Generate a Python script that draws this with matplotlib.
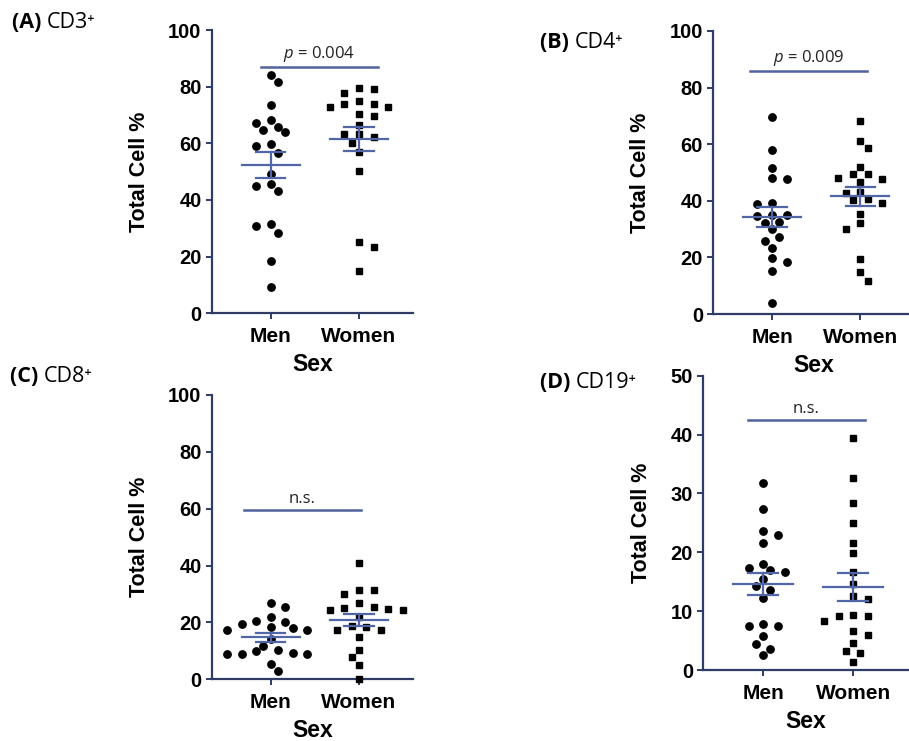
import numpy as np
import matplotlib
matplotlib.use("Agg")
import matplotlib.pyplot as plt

plt.rcParams['font.family'] = ['Liberation Sans', 'DejaVu Sans']
plt.rcParams['mathtext.fontset'] = 'custom'
plt.rcParams['mathtext.it'] = 'Open Sans:italic'
plt.rcParams['mathtext.rm'] = 'Open Sans'

groups = ["Men", "Women"]
x_label = "Sex"
y_label = "Total Cell %"

cd3_men = [84.1, 81.5, 73.6, 67.2, 68.4, 64.7, 65.9, 63.9, 59.6, 58.9,
           56.7, 49.1, 43.2, 45.6, 44.8, 31.5, 30.9, 28.4, 18.6, 9.2]
cd3_women = [79.5, 77.9, 79.1, 74.8, 74.0, 72.9, 73.9, 72.7, 70.4, 69.6,
             66.6, 63.3, 63.3, 62.2, 60.1, 57.1, 50.2, 25.2, 23.3, 14.8]
cd4_men = [69.6, 58.1, 51.6, 48.2, 47.6, 38.8, 39.3, 34.9, 34.7, 35.1,
           32.6, 32.0, 29.9, 25.9, 27.2, 23.2, 18.2, 19.9, 15.3, 3.8]
cd4_women = [68.2, 61.1, 58.8, 52.0, 49.6, 49.4, 47.9, 46.7, 47.8, 42.6,
             43.2, 40.8, 40.2, 39.3, 35.3, 32.0, 30.2, 19.3, 14.7, 11.8]
cd8_men = [27.0, 25.3, 21.9, 20.5, 20.2, 19.3, 18.5, 17.4, 17.4, 18.1,
           14.3, 11.8, 10.3, 9.8, 8.8, 8.8, 8.8, 9.4, 5.3, 2.9]
cd8_women = [41.0, 31.3, 30.0, 31.3, 27.0, 25.1, 24.4, 25.3, 24.2, 24.6,
             22.0, 18.5, 18.9, 17.5, 17.4, 14.8, 10.3, 7.7, 5.0, 0.0]
cd19_men = [31.8, 27.4, 22.9, 23.7, 21.6, 17.3, 16.6, 18.0, 17.0, 15.5,
            14.3, 13.6, 12.3, 7.5, 7.5, 7.9, 5.8, 4.5, 3.6, 2.5]
cd19_women = [39.4, 32.7, 28.3, 25.0, 21.6, 19.9, 16.6, 14.6, 12.5, 12.0,
              9.3, 9.2, 9.2, 8.4, 6.0, 6.6, 4.6, 2.9, 3.2, 1.4]

panel_titles = ["(A)", "(B)", "(C)", "(D)"]
panel_markers = ["CD3", "CD4", "CD8", "CD19"]
sig_texts = ["$p$ = 0.004", "$p$ = 0.009", "n.s.", "n.s."]
sig_levels = [87.1, 85.9, 59.6, 42.5]
sig_spans = [(-0.11, 1.215), (-0.245, 1.07), (-0.30, 1.02), (-0.17, 1.13)]
y_maxes = [100, 100, 100, 50]
y_steps = [20, 20, 20, 10]

W, H = 909, 741
fig = plt.figure(figsize=(W / 100, H / 100), dpi=100)

AXC = '#2f3c66'
MEANC = '#5066a6'
SIGC = '#51629e'

# axes placement in pixels: left, top, bottom, pixel spacing between groups
layout = [
    (212, 30, 313.3, 88.3),
    (713.3, 31, 314, 88.3),
    (212, 395, 679.3, 88.3),
    (703.3, 375.7, 670, 90.0),
]
XL = (-0.665, 1.61)


def swarm(vals, ypx_per_unit, xpx_per_unit, step=7.3, dist=9.2):
    """Grid-based swarm: columns every `step` px, min distance `dist` px."""
    vals = np.asarray(vals, float)
    order = np.argsort(-vals, kind='stable')
    placed = []
    offs = np.zeros(len(vals))
    nleft = nright = 0
    for i in order:
        y = vals[i] * ypx_per_unit
        done = False
        for k in range(0, 15):
            if k == 0:
                cands = [0.0]
            elif nleft < nright:
                cands = [-k * step, k * step]
            else:
                cands = [k * step, -k * step]
            for c in cands:
                if all((px - c) ** 2 + (py - y) ** 2 >= dist ** 2 for px, py in placed):
                    offs[i] = c
                    placed.append((c, y))
                    if c < 0:
                        nleft += 1
                    elif c > 0:
                        nright += 1
                    done = True
                    break
            if done:
                break
    return offs / xpx_per_unit


data = [(cd3_men, cd3_women), (cd4_men, cd4_women),
        (cd8_men, cd8_women), (cd19_men, cd19_women)]

for p in range(4):
    left, top, bot, sp = layout[p]
    wpx = (XL[1] - XL[0]) * sp
    ax = fig.add_axes([left / W, (H - bot) / H, wpx / W, (bot - top) / H])
    ymax = y_maxes[p]
    ax.set_xlim(*XL)
    ax.set_ylim(0, ymax)
    ypx = (bot - top) / ymax
    for g, (vals, mk) in enumerate(zip(data[p], ['o', 's'])):
        vals = np.asarray(vals, float)
        xo = swarm(vals, ypx, sp)
        ax.plot(g + xo, vals, linestyle='none', marker=mk, color='black',
                ms=5.3 if mk == 'o' else 5.0, clip_on=False, zorder=3)
        m = vals.mean()
        se = vals.std(ddof=1) / np.sqrt(len(vals))
        ax.plot([g - 0.33, g + 0.33], [m, m], color=MEANC, lw=1.6, zorder=4)
        ax.plot([g - 0.166, g + 0.166], [m + se, m + se], color=MEANC, lw=1.6, zorder=4)
        ax.plot([g - 0.166, g + 0.166], [m - se, m - se], color=MEANC, lw=1.6, zorder=4)
        ax.plot([g, g], [m - se, m + se], color=MEANC, lw=1.6, zorder=4)
    s0, s1 = sig_spans[p]
    ax.plot([s0, s1], [sig_levels[p], sig_levels[p]], color=SIGC, lw=1.8, clip_on=False)
    ax.text((s0 + s1) / 2, sig_levels[p] + ymax * 0.01, sig_texts[p],
            ha='center', va='bottom', fontsize=12, family='Open Sans', color='#222222')
    for s in ['top', 'right']:
        ax.spines[s].set_visible(False)
    for s in ['left', 'bottom']:
        ax.spines[s].set_color(AXC)
        ax.spines[s].set_linewidth(1.6)
    ax.set_yticks(np.arange(0, ymax + 1, y_steps[p]))
    ax.set_xticks([0, 1])
    ax.set_xticklabels(groups)
    ax.tick_params(axis='both', colors=AXC, width=1.4, length=4, labelcolor='black',
                   labelsize=14.5)
    ax.tick_params(axis='x', pad=6, labelsize=15)
    for t in ax.get_xticklabels() + ax.get_yticklabels():
        t.set_fontweight('bold')
    ax.set_ylabel(y_label, fontsize=15.5, fontweight='bold', labelpad=13)
    ax.set_xlabel(x_label, fontsize=16.5, fontweight='bold', labelpad=5)

# panel labels
label_pos = [(12, 22), (540, 42), (10, 376), (540, 382)]
for p in range(4):
    x, y = label_pos[p]
    t1 = fig.text(x / W, 1 - y / H, panel_titles[p] + " ", fontsize=15.5,
                  fontweight='bold', family=['Open Sans', 'DejaVu Sans'],
                  va='center', ha='left')
    fig.canvas.draw()
    bb = t1.get_window_extent()
    fig.text(bb.x1 / W, 1 - y / H, panel_markers[p] + "\u207a", fontsize=15.5,
             family=['Open Sans', 'DejaVu Sans'], va='center', ha='left')

fig.savefig("out.png", dpi=100)
